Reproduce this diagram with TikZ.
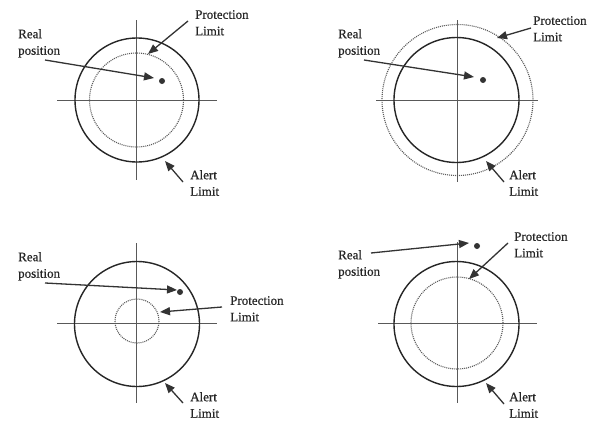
\documentclass[tikz,border=0pt]{standalone}
\usepackage{fontspec}
\setmainfont{Liberation Serif}[FakeBold=0.6]
\usetikzlibrary{arrows.meta}
\begin{document}
\begin{tikzpicture}[x=1pt,y=-1pt,
  axis/.style={draw=black!65,line width=1pt},
  alertc/.style={draw=black!85,line width=1.4pt},
  protc/.style={draw=black!65,line width=1.1pt,dash pattern=on 1pt off 1pt},
  dotpos/.style={fill=black!80,draw=none},
  lbl/.style={anchor=north west,align=left,inner sep=0pt,font=\fontsize{13}{16.5}\selectfont,text=black!85},
  pointer/.style={draw=black!80,line width=1.3pt,-{Triangle[length=10pt,width=8pt]}}]
\useasboundingbox[fill=white] (0,0) rectangle (592,423);

% ---------- panel 1 ----------
\coordinate (a1l) at (57,100); \coordinate (a1r) at (217,100);
\coordinate (a1t) at (136,20); \coordinate (a1b) at (136,180);
\draw[axis] (a1l) -- (a1r); \draw[axis] (a1t) -- (a1b);
\draw[alertc] (137,100) circle[radius=62];
\draw[protc] (136.5,100) circle[radius=47];
\fill[dotpos] (162,81) circle[radius=3];
\node[lbl] (rp1) at (18,29) {Real\\position};
\node[lbl] (pl1) at (195,10) {Protection\\Limit};
\node[lbl] (al1) at (190,170) {Alert\\Limit};
\coordinate (rp1s) at (45,60); \coordinate (rp1e) at (154,78);
\coordinate (pl1s) at (188,21); \coordinate (pl1e) at (148,54);
\coordinate (al1s) at (183,182); \coordinate (al1e) at (165,161);
\draw[pointer] (rp1s) -- (rp1e);
\draw[pointer] (pl1s) -- (pl1e);
\draw[pointer] (al1s) -- (al1e);

% ---------- panel 2 ----------
\coordinate (a2l) at (376,100); \coordinate (a2r) at (538,100);
\coordinate (a2t) at (457,20); \coordinate (a2b) at (457,182);
\draw[axis] (a2l) -- (a2r); \draw[axis] (a2t) -- (a2b);
\draw[alertc] (456.5,100) circle[radius=62.5];
\draw[protc] (457.5,100) circle[radius=75.5];
\fill[dotpos] (483,80) circle[radius=3];
\node[lbl] (rp2) at (338,29) {Real\\position};
\node[lbl] (pl2) at (533,16) {Protection\\Limit};
\node[lbl] (al2) at (509,170) {Alert\\Limit};
\coordinate (rp2s) at (364,60); \coordinate (rp2e) at (474,77);
\coordinate (pl2s) at (531,28); \coordinate (pl2e) at (497,38);
\coordinate (al2s) at (504,182); \coordinate (al2e) at (486,161);
\draw[pointer] (rp2s) -- (rp2e);
\draw[pointer] (pl2s) -- (pl2e);
\draw[pointer] (al2s) -- (al2e);

% ---------- panel 3 ----------
\coordinate (a3l) at (57,323); \coordinate (a3r) at (217,323);
\coordinate (a3t) at (136,243); \coordinate (a3b) at (136,403);
\draw[axis] (a3l) -- (a3r); \draw[axis] (a3t) -- (a3b);
\draw[alertc] (137,324) circle[radius=62.5];
\draw[protc] (137,321) circle[radius=22];
\fill[dotpos] (180,292) circle[radius=3];
\node[lbl] (rp3) at (18,252) {Real\\position};
\node[lbl] (pl3) at (230,296) {Protection\\Limit};
\node[lbl] (al3) at (190,392) {Alert\\Limit};
\coordinate (rp3s) at (45,283); \coordinate (rp3e) at (177,290);
\coordinate (pl3s) at (222,307); \coordinate (pl3e) at (160,312);
\coordinate (al3s) at (183,403); \coordinate (al3e) at (165,383);
\draw[pointer] (rp3s) -- (rp3e);
\draw[pointer] (pl3s) -- (pl3e);
\draw[pointer] (al3s) -- (al3e);

% ---------- panel 4 ----------
\coordinate (a4l) at (378,323); \coordinate (a4r) at (537,323);
\coordinate (a4t) at (457,242); \coordinate (a4b) at (457,403);
\draw[axis] (a4l) -- (a4r); \draw[axis] (a4t) -- (a4b);
\draw[alertc] (456.5,324) circle[radius=62.5];
\draw[protc] (457,323) circle[radius=46];
\fill[dotpos] (477,246) circle[radius=3];
\node[lbl] (rp4) at (338,250) {Real\\position};
\node[lbl] (pl4) at (514,232) {Protection\\Limit};
\node[lbl] (al4) at (509,392) {Alert\\Limit};
\coordinate (rp4s) at (371,253); \coordinate (rp4e) at (469,243);
\coordinate (pl4s) at (508,243); \coordinate (pl4e) at (469,279);
\coordinate (al4s) at (504,404); \coordinate (al4e) at (486,383);
\draw[pointer] (rp4s) -- (rp4e);
\draw[pointer] (pl4s) -- (pl4e);
\draw[pointer] (al4s) -- (al4e);
\end{tikzpicture}
\end{document}
